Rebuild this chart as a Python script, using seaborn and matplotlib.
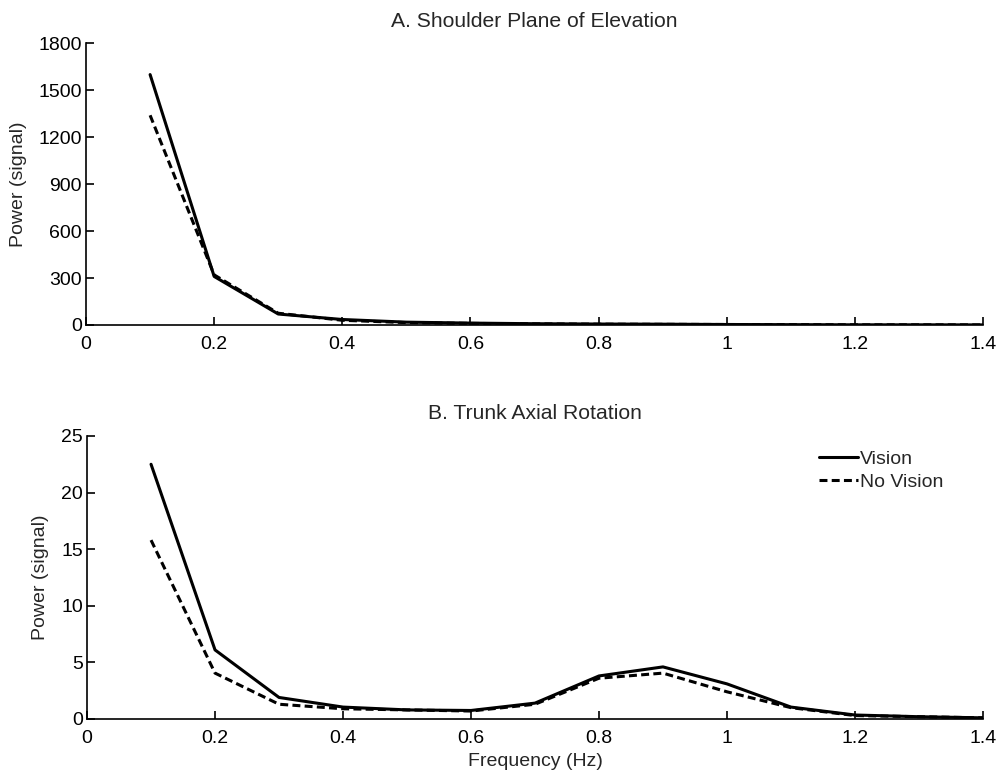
import numpy as np
import pandas as pd
import matplotlib
matplotlib.use("Agg")
import matplotlib.pyplot as plt
import seaborn as sns

freq = [0.1, 0.2, 0.3, 0.4, 0.5, 0.6, 0.7, 0.8, 0.9, 1.0, 1.1, 1.2, 1.3, 1.4]
shoulder_vision = [1600, 310, 70, 35, 18, 12, 8, 6, 5, 3, 2, 1, 1, 0.5]
shoulder_novision = [1340, 320, 75, 30, 15, 10, 7, 5, 4, 3, 2, 1, 1, 0.5]
trunk_vision = [22.5, 6.1, 1.9, 1.05, 0.8, 0.75, 1.4, 3.8, 4.6, 3.1, 1.05, 0.35, 0.2, 0.1]
trunk_novision = [15.8, 4.05, 1.3, 0.9, 0.8, 0.7, 1.3, 3.6, 4.05, 2.4, 1.0, 0.3, 0.2, 0.1]

xticks = [0, 0.2, 0.4, 0.6, 0.8, 1.0, 1.2, 1.4]
xticklabels = ["0", "0.2", "0.4", "0.6", "0.8", "1", "1.2", "1.4"]
top_yticks = [0, 300, 600, 900, 1200, 1500, 1800]
bot_yticks = [0, 5, 10, 15, 20, 25]
titles = ["A. Shoulder Plane of Elevation", "B. Trunk Axial Rotation"]
conditions = ["Vision", "No Vision"]

sns.set_style("white")
plt.rcParams['font.family'] = ['Liberation Sans', 'DejaVu Sans']
FS = 14

fig = plt.figure(figsize=(10.04, 7.73), dpi=100)
ax1 = fig.add_axes([0.0857, 0.5796, 0.8933, 0.3644])
ax2 = fig.add_axes([0.0867, 0.0699, 0.8923, 0.3661])

def make_df(v, nv):
    return pd.DataFrame({
        "Frequency": freq + freq,
        "Power": v + nv,
        "Condition": [conditions[0]] * len(freq) + [conditions[1]] * len(freq),
    })

for ax, (v, nv), title, yt, ylim in [
    (ax1, (shoulder_vision, shoulder_novision), titles[0], top_yticks, (0, 1800)),
    (ax2, (trunk_vision, trunk_novision), titles[1], bot_yticks, (0, 25)),
]:
    df = make_df(v, nv)
    sns.lineplot(data=df, x="Frequency", y="Power", hue="Condition", style="Condition",
                 palette=["black", "black"], dashes={"Vision": "", "No Vision": (2.6, 1.4)},
                 linewidth=2.2, ax=ax, legend=(ax is ax2))
    ax.set_xlim(0, 1.4)
    ax.set_ylim(*ylim)
    ax.set_xticks(xticks)
    ax.set_xticklabels(xticklabels)
    ax.set_yticks(yt)
    ax.set_title(title, fontsize=15.2, pad=12)
    ax.set_xlabel("")
    ax.set_ylabel("Power (signal)", fontsize=FS)
    for s in ["top", "right"]:
        ax.spines[s].set_visible(False)
    for s in ["left", "bottom"]:
        ax.spines[s].set_color("black")
        ax.spines[s].set_linewidth(1.2)
    ax.tick_params(direction="in", length=6, width=1.2, colors="black", labelsize=FS,
                   bottom=True, left=True)
    ax.tick_params(axis="x", pad=8)
    ax.tick_params(axis="y", pad=3)

ax2.set_xlabel("Frequency (Hz)", fontsize=14, labelpad=4)
ax1.yaxis.set_label_coords(-0.066, 0.5)
ax2.yaxis.set_label_coords(-0.042, 0.5)

leg = ax2.legend(loc="upper right", bbox_to_anchor=(0.975, 1.01), frameon=False,
                 handlelength=2.0, handletextpad=0.1, labelspacing=0.25, fontsize=FS)
for line in leg.get_lines():
    line.set_linewidth(2.2)

fig.savefig("out.png", dpi=100)
